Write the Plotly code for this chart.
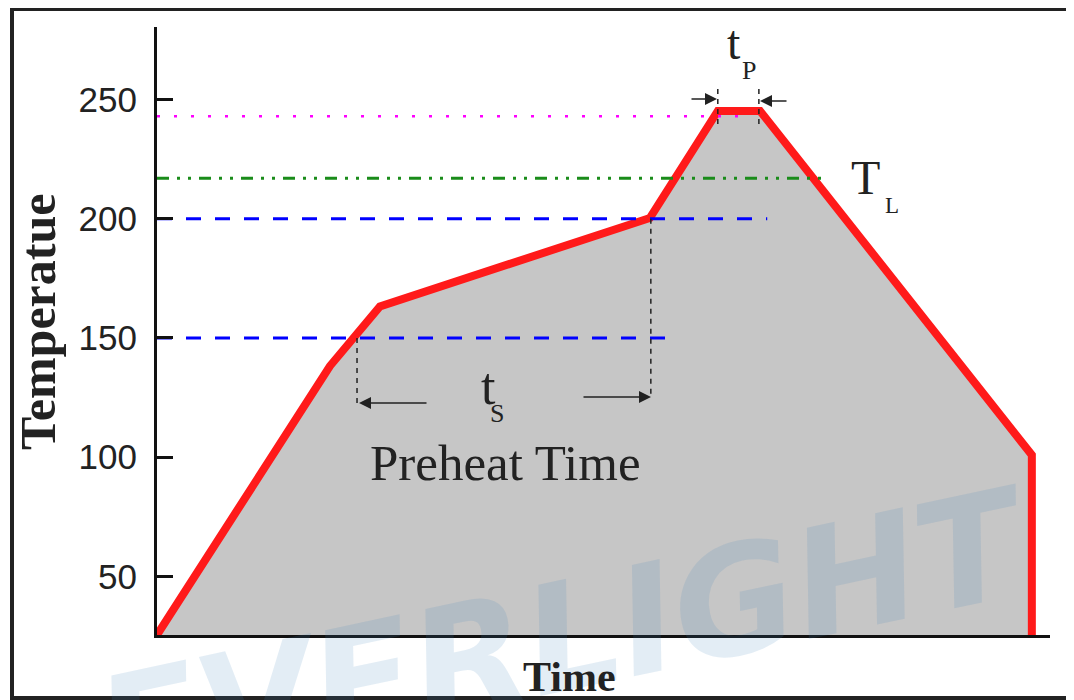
import plotly.graph_objects as go

# ---------------- data ----------------
profile_time = [0, 58.1, 74.9, 165.6, 188.4, 202.6, 293.9, 293.9]
profile_temp = [25.4, 138.2, 163.2, 200.3, 245.2, 245.2, 100.9, 25.4]

peak_level = 243          # magenta dotted
liquidus_level = 217      # T_L green dash-dot
soak_max_level = 200      # blue dashed
soak_min_level = 150      # blue dashed
peak_line_end = 197.5
liquidus_line_end = 225
soak_max_line_end = 205
soak_min_line_end = 175

ts_start, ts_end = 67.2, 165.9
tp_start, tp_end = 188.4, 202.2

y_ticks = [50, 100, 150, 200, 250]
y_tick_labels = ["50", "100", "150", "200", "250"]

X_RANGE = [0, 300]
Y_RANGE = [25.4, 280.4]

# page offset (browser body margin) compensation
OFF = 8
W, H = 1074 - OFF, 700 - OFF
ML, MR, MT, MB = 157 - OFF, 24, 27 - OFF, 65
PW, PH = W - ML - MR, H - MT - MB


def px_to_paper(px, py):
    px, py = px - OFF, py - OFF
    return (px - ML) / PW, (H - MB - py) / PH


def px_to_data(px, py):
    px, py = px - OFF, py - OFF
    x = X_RANGE[0] + (px - ML) / PW * (X_RANGE[1] - X_RANGE[0])
    y = Y_RANGE[0] + (H - MB - py) / PH * (Y_RANGE[1] - Y_RANGE[0])
    return x, y


fig = go.Figure()

# filled profile with red outline
fig.add_trace(go.Scatter(
    x=profile_time, y=profile_temp, mode="lines", fill="tozeroy",
    fillcolor="#c6c6c6", line=dict(color="#ff1a1a", width=8),
    hoverinfo="skip", showlegend=False))

# reference levels
def hline(level, xend, color, dash, width):
    fig.add_trace(go.Scatter(x=[X_RANGE[0], xend], y=[level, level], mode="lines",
                             line=dict(color=color, dash=dash, width=width),
                             hoverinfo="skip", showlegend=False))

hline(peak_level, peak_line_end, "#ff00ff", "3px,14px", 2.5)
hline(liquidus_level, liquidus_line_end, "#1a8c1a", "12px,8px,3px,8px,3px,8px", 3)
hline(soak_max_level, soak_max_line_end, "#0000ff", "15px,14px", 3)
hline(soak_min_level, soak_min_line_end, "#0000ff", "15px,14px", 3)

# vertical dashed markers
_, ts_low1 = px_to_data(0, 405)
_, ts_low2 = px_to_data(0, 397)
_, tp_top = px_to_data(0, 89)
_, tp_bot = px_to_data(0, 127)
for xv, y0, y1 in [(ts_start, soak_min_level, ts_low1), (ts_end, soak_max_level, ts_low2),
                   (tp_start, tp_top, tp_bot), (tp_end, tp_top, tp_bot)]:
    fig.add_trace(go.Scatter(x=[xv, xv], y=[y0, y1], mode="lines",
                             line=dict(color="#222222", dash="5px,5px", width=1.5),
                             hoverinfo="skip", showlegend=False))

annotations = []

# watermark (drawn first, under the labels)
wx, wy = px_to_paper(564, 638)
annotations.append(dict(x=wx, y=wy, xref="paper", yref="paper", text="<b><i>EVERLIGHT</i></b>",
                        showarrow=False, textangle=-12, xanchor="center", yanchor="middle",
                        font=dict(family="DejaVu Sans", size=150, color="rgba(68,135,188,0.15)")))

# arrows
def arrow(tail_px, head_px, py):
    xt, yt = px_to_data(tail_px, py)
    xh, yh = px_to_data(head_px, py)
    annotations.append(dict(x=xh, y=yh, ax=xt, ay=yt, xref="x", yref="y", axref="x", ayref="y",
                            text="", showarrow=True, arrowhead=2, arrowsize=1.6,
                            arrowwidth=1.5, arrowcolor="#222222"))

arrow(428, 359, 403)
arrow(582, 651, 397)
arrow(690, 717, 99)
arrow(788, 760, 101)

SERIF = "Liberation Serif"
TXT = "#222222"

def label(text, px, py, size, bold=False, angle=0, family=SERIF):
    x, y = px_to_paper(px, py)
    annotations.append(dict(x=x, y=y, xref="paper", yref="paper", text=("<b>%s</b>" % text) if bold else text,
                            showarrow=False, textangle=angle, xanchor="center", yanchor="middle",
                            font=dict(family=family, size=size, color=TXT)))

label("t", 488, 386, 52)
label("S", 497, 413, 26)
label("Preheat Time", 505, 463, 51)
label("t", 734, 43, 48)
label("P", 749, 71, 26)
label("T", 865, 178, 48)
label("L", 892, 205, 23)
label("Temperatue", 38, 322, 50, bold=True, angle=-90)
label("Time", 569, 677, 42, bold=True)

# outer frame
fx0, fy0 = px_to_paper(12, 698)
fx1, fy1 = px_to_paper(1120, 9)
shapes = [dict(type="rect", xref="paper", yref="paper", x0=fx0, y0=fy0, x1=fx1, y1=fy1,
               line=dict(color="#222222", width=4), fillcolor="rgba(0,0,0,0)", layer="above")]

fig.update_layout(
    width=W, height=H, margin=dict(l=ML, r=MR, t=MT, b=MB, pad=0),
    paper_bgcolor="white", plot_bgcolor="white",
    showlegend=False, annotations=annotations, shapes=shapes,
    xaxis=dict(range=X_RANGE, showgrid=False, zeroline=False, showticklabels=False, ticks="",
               showline=True, linecolor="#111111", linewidth=3),
    yaxis=dict(range=Y_RANGE, showgrid=False, zeroline=False, tickvals=y_ticks, ticktext=y_tick_labels,
               ticks="inside", ticklen=16, tickwidth=3, tickcolor="#111111",
               showline=True, linecolor="#111111", linewidth=3, ticklabelstandoff=10,
               tickfont=dict(family="Liberation Sans", size=35, color=TXT)),
)

fig.write_html("out.html")
